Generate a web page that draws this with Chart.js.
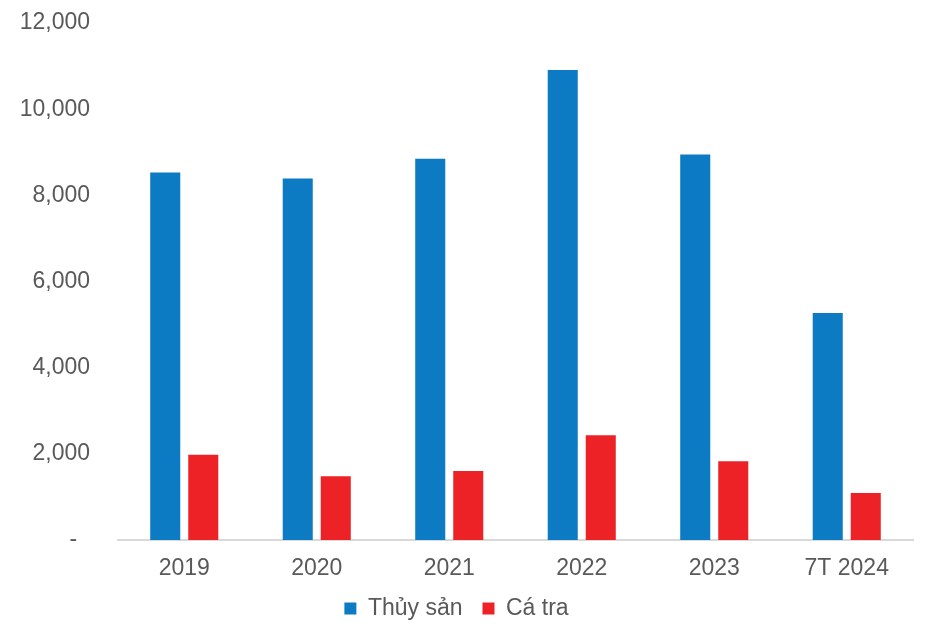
<!DOCTYPE html>
<html>
<head>
<meta charset="utf-8">
<script src="https://cdn.jsdelivr.net/npm/chart.js@4/dist/chart.umd.min.js"></script>
<style>
    html, body { margin: 0; padding: 0; background: #ffffff; }
    #wrap { width: 936px; height: 642px; position: relative; }
</style>
</head>
<body>
<div id="wrap"><canvas id="chart"></canvas></div>
<script>
// Categories and series
const categories = ['2019', '2020', '2021', '2022', '2023', '7T 2024'];
const thuySan = [8530, 8390, 8850, 10910, 8950, 5270];
const caTra = [1980, 1480, 1600, 2430, 1830, 1090];
const yTicks = [0, 2000, 4000, 6000, 8000, 10000, 12000];

const textColor = '#595959';
const fontFamily = '"Liberation Sans", Arial, sans-serif';

const ctx = document.getElementById('chart').getContext('2d');

new Chart(ctx, {
    type: 'bar',
    data: {
        labels: categories,
        datasets: [
            {
                label: 'Thủy sản',
                data: thuySan,
                backgroundColor: '#0C7BC3',
                borderWidth: 0
            },
            {
                label: 'Cá tra',
                data: caTra,
                backgroundColor: '#EC2227',
                borderWidth: 0
            }
        ]
    },
    options: {
        responsive: true,
        maintainAspectRatio: false,
        animation: false,
        categoryPercentage: 0.574,
        barPercentage: 0.79,
        layout: {
            padding: { top: 23, right: 23, bottom: 12, left: 0 }
        },
        plugins: {
            legend: {
                position: 'bottom',
                labels: {
                    color: textColor,
                    boxWidth: 12,
                    boxHeight: 12,
                    padding: 20,
                    font: { family: fontFamily, size: 23 }
                }
            },
            tooltip: { enabled: false }
        },
        scales: {
            x: {
                afterFit: (scale) => {
                    scale.height = 37;
                    scale.paddingLeft = 0;
                    scale.paddingRight = 0;
                },
                grid: { display: false, drawTicks: false },
                border: { display: true, color: '#d9d9d9', width: 2 },
                ticks: {
                    color: textColor,
                    padding: 15,
                    font: { family: fontFamily, size: 23 }
                }
            },
            y: {
                min: 0,
                max: 12000,
                afterFit: (scale) => {
                    scale.width = 118;
                    scale.paddingTop = 0;
                    scale.paddingBottom = 0;
                },
                afterBuildTicks: (scale) => {
                    scale.ticks = yTicks.map(v => ({ value: v }));
                },
                grid: { display: false, drawTicks: false },
                border: { display: false },
                ticks: {
                    color: textColor,
                    padding: 28,
                    font: { family: fontFamily, size: 23 },
                    callback: (value) => value === 0 ? '-  ' : value.toLocaleString('en-US')
                }
            }
        }
    }
});
</script>
</body>
</html>
